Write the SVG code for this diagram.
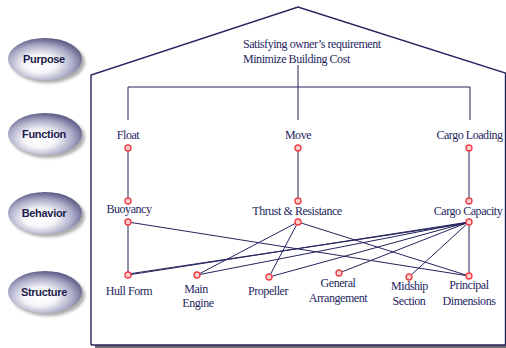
<svg xmlns="http://www.w3.org/2000/svg" width="506" height="348" viewBox="0 0 506 348">
<defs>
<radialGradient id="badge" cx="0.45" cy="0.6" r="0.62" fx="0.42" fy="0.62">
<stop offset="0" stop-color="#ffffff"/>
<stop offset="0.35" stop-color="#f6f6fa"/>
<stop offset="0.7" stop-color="#acacc8"/>
<stop offset="1" stop-color="#52527e"/>
</radialGradient>
<filter id="blur" x="-20%" y="-20%" width="140%" height="140%"><feGaussianBlur stdDeviation="1.5"/></filter>
<style>
.lbl{font-family:"Liberation Serif","Times New Roman",serif;font-size:12px;letter-spacing:-0.45px;fill:#262660;text-anchor:middle}
.st{text-anchor:start}
.bt{font-family:"Liberation Sans",Arial,sans-serif;font-size:11px;font-weight:bold;fill:#1c1c4c;text-anchor:middle;letter-spacing:-0.3px}
.ln{stroke:#24245e;stroke-width:1;fill:none}
.dot{fill:#ffd0d0;stroke:#ee4048;stroke-width:1.4}
.sh{fill:#777;opacity:0.6}
</style>
</defs>
<g id="house">
<rect x="95" y="345" width="411" height="3" fill="#6a6a6a"/>
<polyline points="91,345 91,75 298,7 505.5,73 505.5,345 91,345" fill="none" stroke="#24245e" stroke-width="1.4"/>
</g>
<g id="badge-purpose">
<ellipse class="sh" cx="48" cy="62" rx="37" ry="21" filter="url(#blur)"/>
<ellipse cx="45" cy="59" rx="37" ry="21" fill="url(#badge)"/>
<text class="bt" x="44" y="63">Purpose</text>
</g>
<g id="badge-function">
<ellipse class="sh" cx="48" cy="137" rx="37" ry="21" filter="url(#blur)"/>
<ellipse cx="45" cy="134" rx="37" ry="21" fill="url(#badge)"/>
<text class="bt" x="44" y="138">Function</text>
</g>
<g id="badge-behavior">
<ellipse class="sh" cx="48" cy="216" rx="37" ry="21" filter="url(#blur)"/>
<ellipse cx="45" cy="213" rx="37" ry="21" fill="url(#badge)"/>
<text class="bt" x="44" y="217">Behavior</text>
</g>
<g id="badge-structure">
<ellipse class="sh" cx="48" cy="295" rx="37" ry="21" filter="url(#blur)"/>
<ellipse cx="45" cy="292" rx="37" ry="21" fill="url(#badge)"/>
<text class="bt" x="44" y="296">Structure</text>
</g>
<g id="connectors">
<polyline class="ln" points="298,65 298,87"/>
<polyline class="ln" points="128,120 128,87 470,87 470,120"/>
<polyline class="ln" points="298,87 298,120"/>
<line class="ln" x1="128" y1="148" x2="128" y2="201"/>
<line class="ln" x1="298" y1="148" x2="298" y2="201"/>
<line class="ln" x1="469" y1="148" x2="469" y2="201"/>
<line class="ln" x1="128" y1="222" x2="128" y2="275"/>
<line class="ln" x1="128" y1="222" x2="469" y2="276"/>
<line class="ln" x1="298" y1="222" x2="197" y2="275"/>
<line class="ln" x1="298" y1="222" x2="269" y2="277"/>
<line class="ln" x1="298" y1="222" x2="469" y2="276"/>
<line class="ln" x1="469" y1="222" x2="128" y2="275" stroke-width="1.6"/>
<line class="ln" x1="469" y1="223" x2="128" y2="274"/>
<line class="ln" x1="469" y1="222" x2="197" y2="275"/>
<line class="ln" x1="469" y1="222" x2="269" y2="277"/>
<line class="ln" x1="469" y1="222" x2="339" y2="273"/>
<line class="ln" x1="469" y1="222" x2="409" y2="277"/>
<line class="ln" x1="469" y1="222" x2="469" y2="276"/>
</g>
<g id="purpose">
<text class="lbl st" x="243" y="48">Satisfying owner’s requirement</text>
<text class="lbl st" x="243" y="63">Minimize Building Cost</text>
</g>
<g id="float"><text class="lbl" x="128" y="139">Float</text><circle class="dot" cx="128" cy="148" r="3"/></g>
<g id="move"><text class="lbl" x="298" y="139">Move</text><circle class="dot" cx="298" cy="148" r="3"/></g>
<g id="cargo-loading"><text class="lbl" x="469.5" y="139">Cargo Loading</text><circle class="dot" cx="469" cy="148" r="3"/></g>
<g id="buoyancy"><circle class="dot" cx="128" cy="201" r="3"/><text class="lbl" x="129" y="213">Buoyancy</text><circle class="dot" cx="128" cy="222" r="3"/></g>
<g id="thrust"><circle class="dot" cx="298" cy="201" r="3"/><text class="lbl" x="297" y="215">Thrust &amp; Resistance</text><circle class="dot" cx="298" cy="222" r="3"/></g>
<g id="cargo-capacity"><circle class="dot" cx="469" cy="201" r="3"/><text class="lbl" x="468" y="215">Cargo Capacity</text><circle class="dot" cx="469" cy="222" r="3"/></g>
<g id="hull-form"><circle class="dot" cx="128" cy="275" r="3"/><text class="lbl" x="129" y="295">Hull Form</text></g>
<g id="main-engine"><circle class="dot" cx="197" cy="275" r="3"/><text class="lbl" x="196" y="293">Main</text><text class="lbl" x="198" y="307">Engine</text></g>
<g id="propeller"><circle class="dot" cx="269" cy="277" r="3"/><text class="lbl" x="268" y="295">Propeller</text></g>
<g id="general-arrangement"><circle class="dot" cx="339" cy="273" r="3"/><text class="lbl" x="338" y="287">General</text><text class="lbl" x="338" y="302">Arrangement</text></g>
<g id="midship-section"><circle class="dot" cx="409" cy="277" r="3"/><text class="lbl" x="409.5" y="290">Midship</text><text class="lbl" x="409" y="305">Section</text></g>
<g id="principal-dimensions"><circle class="dot" cx="469" cy="276" r="3"/><text class="lbl" x="469" y="289">Principal</text><text class="lbl" x="469" y="305">Dimensions</text></g>
</svg>
